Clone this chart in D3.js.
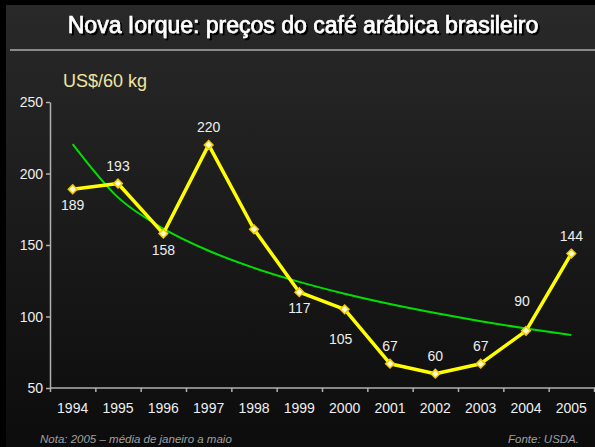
<!DOCTYPE html>
<html>
<head>
    <style>
        body { margin: 0; background: #000; }
        svg text { font-family: "Liberation Sans", Arial, sans-serif; }
        .axis text { fill: #eeeeee; font-size: 14px; }
        .axis path, .axis line { stroke: #b0b0b0; stroke-width: 1.5; }
        .lbl { fill: #eeeeee; font-size: 14px; text-anchor: middle; }
        .note { fill: #a0a0a0; font-size: 11.5px; font-style: italic; }
    </style>
    <script src="https://d3js.org/d3.v7.min.js"></script>
</head>
<body>
<script>
    const years = ["1994", "1995", "1996", "1997", "1998", "1999", "2000", "2001", "2002", "2003", "2004", "2005"];
    const prices = [189, 193, 158, 220, 161, 117, 105, 67, 60, 67, 90, 144];
    const trend = [220.6, 183.3, 161.5, 146, 134, 124.2, 115.9, 108.7, 102.4, 96.7, 91.6, 87];
    const yTicks = [50, 100, 150, 200, 250];
    // which points get a label and where (null = no label)
    const labelPos = ["below", "above", "below", "above", null, "below", "belowLeft", "above", "above", "above", "aboveLeft", "above"];

    const w = 595, h = 447;

    const svg = d3.select("body").append("svg")
        .attr("width", w)
        .attr("height", h);

    const defs = svg.append("defs");
    const grad = defs.append("linearGradient")
        .attr("id", "bg").attr("x1", 0).attr("y1", 0).attr("x2", 0).attr("y2", 1);
    grad.append("stop").attr("offset", "0%").attr("stop-color", "#292929");
    grad.append("stop").attr("offset", "100%").attr("stop-color", "#0c0c0c");

    defs.append("filter").attr("id", "shadow")
        .append("feDropShadow")
        .attr("dx", 2).attr("dy", 2).attr("stdDeviation", 0.3)
        .attr("flood-color", "#000").attr("flood-opacity", 1);

    svg.append("rect").attr("width", w).attr("height", h).attr("fill", "#000");
    svg.append("rect").attr("x", 6).attr("y", 5).attr("width", w - 6).attr("height", h - 5).attr("fill", "url(#bg)");

    // title
    svg.append("text").attr("x", 303).attr("y", 33).attr("text-anchor", "middle")
        .attr("font-size", 23).attr("fill", "#fff")
        .attr("stroke", "#fff").attr("stroke-width", 0.6)
        .attr("filter", "url(#shadow)")
        .text("Nova Iorque: preços do café arábica brasileiro");
    svg.append("line").attr("x1", 10).attr("x2", w).attr("y1", 50).attr("y2", 50)
        .attr("stroke", "#8a8a8a").attr("stroke-width", 2);

    svg.append("text").attr("x", 63).attr("y", 87).attr("font-size", 18)
        .attr("fill", "#f0e6a0").text("US$/60 kg");

    const x = d3.scaleBand().domain(years).range([50, 594]);
    const xEdge = d3.scaleLinear().domain([0, years.length]).range([50, 594]);
    const y = d3.scaleLinear().domain([50, 250]).range([388, 102]);

    const cx = (i) => x(years[i]) + x.bandwidth() / 2;

    svg.append("g").attr("class", "axis")
        .attr("transform", "translate(50,0)")
        .call(d3.axisLeft(y).tickValues(yTicks).tickSize(4).tickSizeOuter(0))
        .selectAll("text").attr("dy", "0.35em");

    const xAxis = svg.append("g").attr("class", "axis")
        .attr("transform", "translate(0,388)")
        .call(d3.axisBottom(xEdge).ticks(years.length).tickFormat("").tickSize(4).tickSizeOuter(0));
    xAxis.select(".domain").attr("d", "M50,0H595");

    svg.append("g").selectAll("text")
        .data(years)
        .enter()
        .append("text")
        .attr("class", "lbl")
        .attr("x", (d) => x(d) + x.bandwidth() / 2)
        .attr("y", 413)
        .text((d) => d);

    // trend line
    svg.append("path")
        .datum(trend)
        .attr("fill", "none")
        .attr("stroke", "#00e000")
        .attr("stroke-width", 2)
        .attr("d", d3.line().x((d, i) => cx(i)).y((d) => y(d)).curve(d3.curveMonotoneX));

    // price line
    svg.append("path")
        .datum(prices)
        .attr("fill", "none")
        .attr("stroke", "#ffff00")
        .attr("stroke-width", 3.5)
        .attr("stroke-linejoin", "round")
        .attr("d", d3.line().x((d, i) => cx(i)).y((d) => y(d)));

    svg.append("g").selectAll("path")
        .data(prices)
        .enter()
        .append("path")
        .attr("d", d3.symbol(d3.symbolDiamond2, 48))
        .attr("transform", (d, i) => "translate(" + cx(i) + "," + y(d) + ")")
        .attr("fill", "#ffffd0")
        .attr("stroke", "#f5c800")
        .attr("stroke-width", 1.5);

    const off = {
        above: [0, -13],
        below: [0, 21],
        belowLeft: [-4, 35],
        aboveLeft: [-4, -25]
    };

    svg.append("g").selectAll("text")
        .data(prices.map((v, i) => [v, i]).filter((d) => labelPos[d[1]]))
        .enter()
        .append("text")
        .attr("class", "lbl")
        .attr("x", (d) => cx(d[1]) + off[labelPos[d[1]]][0])
        .attr("y", (d) => y(d[0]) + off[labelPos[d[1]]][1])
        .text((d) => d[0]);

    svg.append("text").attr("class", "note").attr("x", 40).attr("y", 443)
        .text("Nota: 2005 – média de janeiro a maio");
    svg.append("text").attr("class", "note").attr("x", 579).attr("y", 443)
        .attr("text-anchor", "end").text("Fonte: USDA.");
</script>
</body>
</html>
